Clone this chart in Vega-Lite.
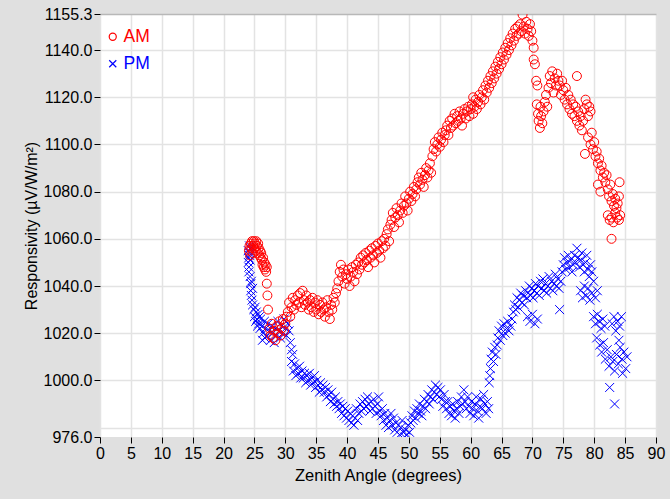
{
  "$schema": "https://vega.github.io/schema/vega-lite/v6.json",
  "width": 556,
  "height": 423,
  "autosize": {"type": "none"},
  "padding": {"left": 100, "top": 14, "right": 14, "bottom": 62},
  "background": "#e0e0e0",
  "config": {
    "font": "Liberation Sans",
    "view": {"fill": "white", "stroke": null}
  },
  "data": {"values": [
    {"a":24.0,"r":1055,"t":"PM"},{"a":24.1,"r":1052,"t":"PM"},{"a":24.2,"r":1057,"t":"PM"},{"a":24.0,"r":1050,"t":"PM"},{"a":24.1,"r":1048,"t":"PM"},{"a":24.2,"r":1054,"t":"PM"},{"a":24.3,"r":1051,"t":"PM"},{"a":24.1,"r":1046,"t":"PM"},{"a":24.3,"r":1056,"t":"PM"},{"a":24.2,"r":1053,"t":"PM"},
    {"a":24.3,"r":1044,"t":"PM"},{"a":24.4,"r":1041,"t":"PM"},{"a":24.4,"r":1038,"t":"PM"},{"a":24.5,"r":1036,"t":"PM"},{"a":24.5,"r":1042,"t":"PM"},{"a":24.6,"r":1034,"t":"PM"},{"a":24.7,"r":1039,"t":"PM"},{"a":24.7,"r":1032,"t":"PM"},
    {"a":24.9,"r":1030,"t":"PM"},{"a":25.0,"r":1027,"t":"PM"},{"a":25.1,"r":1031,"t":"PM"},{"a":25.2,"r":1025,"t":"PM"},{"a":25.3,"r":1029,"t":"PM"},{"a":25.4,"r":1026,"t":"PM"},{"a":25.5,"r":1023,"t":"PM"},{"a":25.6,"r":1028,"t":"PM"},{"a":25.7,"r":1024,"t":"PM"},{"a":25.8,"r":1027,"t":"PM"},{"a":25.9,"r":1022,"t":"PM"},{"a":26.0,"r":1026,"t":"PM"},{"a":26.2,"r":1023,"t":"PM"},{"a":26.4,"r":1020,"t":"PM"},{"a":26.6,"r":1025,"t":"PM"},{"a":26.8,"r":1022,"t":"PM"},{"a":27.0,"r":1019,"t":"PM"},{"a":27.2,"r":1024,"t":"PM"},
    {"a":26.3,"r":1017,"t":"PM"},{"a":26.7,"r":1018,"t":"PM"},{"a":27.4,"r":1021,"t":"PM"},{"a":27.6,"r":1017,"t":"PM"},{"a":27.8,"r":1023,"t":"PM"},{"a":28.0,"r":1020,"t":"PM"},{"a":28.2,"r":1016,"t":"PM"},{"a":28.4,"r":1022,"t":"PM"},{"a":28.6,"r":1019,"t":"PM"},{"a":28.8,"r":1025,"t":"PM"},{"a":29.0,"r":1021,"t":"PM"},{"a":29.2,"r":1018,"t":"PM"},{"a":29.4,"r":1023,"t":"PM"},{"a":29.6,"r":1020,"t":"PM"},{"a":29.8,"r":1026,"t":"PM"},{"a":30.0,"r":1022,"t":"PM"},{"a":30.2,"r":1019,"t":"PM"},{"a":30.4,"r":1024,"t":"PM"},{"a":30.6,"r":1021,"t":"PM"},{"a":30.8,"r":1016,"t":"PM"},{"a":31.0,"r":1013,"t":"PM"},
    {"a":31.0,"r":1008,"t":"PM"},{"a":31.2,"r":1011,"t":"PM"},{"a":31.3,"r":1004,"t":"PM"},{"a":31.5,"r":1007,"t":"PM"},{"a":31.7,"r":1002,"t":"PM"},{"a":31.9,"r":1005,"t":"PM"},{"a":32.1,"r":1003,"t":"PM"},{"a":32.3,"r":1006,"t":"PM"},{"a":32.5,"r":1001,"t":"PM"},
    {"a":32.7,"r":1004,"t":"PM"},{"a":32.9,"r":1001,"t":"PM"},{"a":33.1,"r":1003,"t":"PM"},{"a":33.3,"r":999,"t":"PM"},{"a":33.5,"r":1002,"t":"PM"},{"a":33.7,"r":1000,"t":"PM"},{"a":33.9,"r":1003,"t":"PM"},{"a":34.1,"r":998,"t":"PM"},{"a":34.3,"r":1001,"t":"PM"},{"a":34.5,"r":999,"t":"PM"},{"a":34.7,"r":1002,"t":"PM"},{"a":34.9,"r":997,"t":"PM"},{"a":35.1,"r":1000,"t":"PM"},{"a":35.3,"r":998,"t":"PM"},{"a":35.5,"r":995,"t":"PM"},{"a":35.7,"r":999,"t":"PM"},{"a":35.9,"r":996,"t":"PM"},{"a":36.1,"r":998,"t":"PM"},
    {"a":36.3,"r":995,"t":"PM"},{"a":36.5,"r":997,"t":"PM"},{"a":36.7,"r":993,"t":"PM"},{"a":36.9,"r":996,"t":"PM"},{"a":37.1,"r":994,"t":"PM"},{"a":37.3,"r":991,"t":"PM"},{"a":37.5,"r":995,"t":"PM"},{"a":37.7,"r":992,"t":"PM"},{"a":37.9,"r":990,"t":"PM"},{"a":38.1,"r":993,"t":"PM"},{"a":38.3,"r":989,"t":"PM"},{"a":38.5,"r":991,"t":"PM"},{"a":38.7,"r":988,"t":"PM"},{"a":38.9,"r":990,"t":"PM"},{"a":39.1,"r":986,"t":"PM"},{"a":39.3,"r":989,"t":"PM"},{"a":39.5,"r":985,"t":"PM"},{"a":39.7,"r":988,"t":"PM"},{"a":39.9,"r":984,"t":"PM"},
    {"a":40.1,"r":987,"t":"PM"},{"a":40.3,"r":983,"t":"PM"},{"a":40.5,"r":986,"t":"PM"},{"a":40.7,"r":982,"t":"PM"},{"a":40.9,"r":985,"t":"PM"},{"a":41.1,"r":981,"t":"PM"},{"a":41.3,"r":984,"t":"PM"},{"a":41.5,"r":988,"t":"PM"},{"a":41.7,"r":983,"t":"PM"},
    {"a":41.9,"r":986,"t":"PM"},{"a":42.1,"r":990,"t":"PM"},{"a":42.3,"r":987,"t":"PM"},{"a":42.5,"r":991,"t":"PM"},{"a":42.7,"r":988,"t":"PM"},{"a":42.9,"r":992,"t":"PM"},{"a":43.1,"r":989,"t":"PM"},{"a":43.3,"r":993,"t":"PM"},{"a":43.5,"r":990,"t":"PM"},{"a":43.7,"r":987,"t":"PM"},{"a":43.9,"r":991,"t":"PM"},{"a":44.1,"r":988,"t":"PM"},{"a":44.3,"r":992,"t":"PM"},{"a":44.5,"r":989,"t":"PM"},{"a":44.7,"r":986,"t":"PM"},{"a":44.9,"r":990,"t":"PM"},{"a":45.1,"r":993,"t":"PM"},{"a":45.3,"r":987,"t":"PM"},
    {"a":45.5,"r":985,"t":"PM"},{"a":45.7,"r":988,"t":"PM"},{"a":45.9,"r":983,"t":"PM"},{"a":46.1,"r":986,"t":"PM"},{"a":46.3,"r":981,"t":"PM"},{"a":46.5,"r":984,"t":"PM"},{"a":46.7,"r":980,"t":"PM"},{"a":46.9,"r":983,"t":"PM"},{"a":47.1,"r":986,"t":"PM"},{"a":47.3,"r":981,"t":"PM"},{"a":47.5,"r":984,"t":"PM"},
    {"a":47.7,"r":979,"t":"PM"},{"a":47.9,"r":982,"t":"PM"},{"a":48.1,"r":978,"t":"PM"},{"a":48.3,"r":981,"t":"PM"},{"a":48.5,"r":977,"t":"PM"},{"a":48.7,"r":980,"t":"PM"},{"a":48.9,"r":983,"t":"PM"},{"a":49.1,"r":978,"t":"PM"},{"a":49.3,"r":976,"t":"PM"},{"a":49.5,"r":979,"t":"PM"},{"a":49.7,"r":977,"t":"PM"},{"a":49.9,"r":981,"t":"PM"},{"a":50.1,"r":978,"t":"PM"},
    {"a":50.3,"r":982,"t":"PM"},{"a":50.5,"r":985,"t":"PM"},{"a":50.7,"r":983,"t":"PM"},{"a":50.9,"r":987,"t":"PM"},{"a":51.1,"r":984,"t":"PM"},{"a":51.3,"r":988,"t":"PM"},{"a":51.5,"r":986,"t":"PM"},{"a":51.7,"r":990,"t":"PM"},{"a":51.9,"r":987,"t":"PM"},{"a":52.1,"r":985,"t":"PM"},{"a":52.3,"r":989,"t":"PM"},{"a":52.5,"r":992,"t":"PM"},{"a":52.7,"r":988,"t":"PM"},{"a":52.9,"r":991,"t":"PM"},{"a":53.1,"r":994,"t":"PM"},{"a":53.3,"r":990,"t":"PM"},
    {"a":53.5,"r":993,"t":"PM"},{"a":53.7,"r":996,"t":"PM"},{"a":53.9,"r":992,"t":"PM"},{"a":54.1,"r":995,"t":"PM"},{"a":54.3,"r":998,"t":"PM"},{"a":54.5,"r":994,"t":"PM"},{"a":54.7,"r":997,"t":"PM"},{"a":54.9,"r":993,"t":"PM"},{"a":55.1,"r":996,"t":"PM"},{"a":55.3,"r":992,"t":"PM"},{"a":55.5,"r":989,"t":"PM"},{"a":55.7,"r":994,"t":"PM"},{"a":55.9,"r":991,"t":"PM"},
    {"a":56.1,"r":988,"t":"PM"},{"a":56.3,"r":991,"t":"PM"},{"a":56.5,"r":986,"t":"PM"},{"a":56.7,"r":989,"t":"PM"},{"a":56.9,"r":985,"t":"PM"},{"a":57.1,"r":990,"t":"PM"},{"a":57.3,"r":987,"t":"PM"},{"a":57.5,"r":984,"t":"PM"},{"a":57.7,"r":988,"t":"PM"},{"a":57.9,"r":991,"t":"PM"},{"a":58.1,"r":986,"t":"PM"},
    {"a":58.3,"r":989,"t":"PM"},{"a":58.5,"r":993,"t":"PM"},{"a":58.7,"r":990,"t":"PM"},{"a":58.9,"r":996,"t":"PM"},{"a":59.1,"r":991,"t":"PM"},{"a":59.3,"r":988,"t":"PM"},{"a":59.5,"r":993,"t":"PM"},{"a":59.7,"r":989,"t":"PM"},{"a":59.9,"r":986,"t":"PM"},{"a":60.1,"r":991,"t":"PM"},{"a":60.3,"r":988,"t":"PM"},{"a":60.5,"r":985,"t":"PM"},{"a":60.7,"r":990,"t":"PM"},{"a":60.9,"r":993,"t":"PM"},{"a":61.1,"r":987,"t":"PM"},{"a":61.3,"r":984,"t":"PM"},{"a":61.5,"r":989,"t":"PM"},
    {"a":61.7,"r":992,"t":"PM"},{"a":61.9,"r":988,"t":"PM"},{"a":62.1,"r":994,"t":"PM"},{"a":62.3,"r":990,"t":"PM"},{"a":62.5,"r":986,"t":"PM"},{"a":62.7,"r":991,"t":"PM"},{"a":62.9,"r":988,"t":"PM"},
    {"a":63.0,"r":999,"t":"PM"},{"a":63.1,"r":1002,"t":"PM"},{"a":63.2,"r":1005,"t":"PM"},
    {"a":63.3,"r":1009,"t":"PM"},{"a":63.5,"r":1012,"t":"PM"},{"a":63.7,"r":1008,"t":"PM"},{"a":63.9,"r":1014,"t":"PM"},{"a":64.1,"r":1011,"t":"PM"},{"a":64.3,"r":1015,"t":"PM"},
    {"a":64.4,"r":1018,"t":"PM"},{"a":64.6,"r":1021,"t":"PM"},{"a":64.8,"r":1017,"t":"PM"},{"a":65.0,"r":1023,"t":"PM"},{"a":65.2,"r":1019,"t":"PM"},{"a":65.4,"r":1024,"t":"PM"},{"a":65.6,"r":1020,"t":"PM"},{"a":65.8,"r":1022,"t":"PM"},{"a":66.0,"r":1025,"t":"PM"},{"a":66.2,"r":1021,"t":"PM"},{"a":66.5,"r":1023,"t":"PM"},{"a":66.7,"r":1026,"t":"PM"},
    {"a":66.9,"r":1029,"t":"PM"},{"a":67.1,"r":1032,"t":"PM"},{"a":67.3,"r":1030,"t":"PM"},{"a":67.5,"r":1035,"t":"PM"},{"a":67.7,"r":1031,"t":"PM"},{"a":67.9,"r":1034,"t":"PM"},{"a":68.1,"r":1037,"t":"PM"},{"a":68.3,"r":1033,"t":"PM"},{"a":68.5,"r":1036,"t":"PM"},{"a":68.7,"r":1032,"t":"PM"},{"a":68.9,"r":1038,"t":"PM"},{"a":69.1,"r":1035,"t":"PM"},
    {"a":69.2,"r":1027,"t":"PM"},{"a":69.6,"r":1025,"t":"PM"},{"a":70.0,"r":1028,"t":"PM"},{"a":70.4,"r":1024,"t":"PM"},{"a":70.8,"r":1026,"t":"PM"},
    {"a":69.3,"r":1037,"t":"PM"},{"a":69.5,"r":1040,"t":"PM"},{"a":69.7,"r":1036,"t":"PM"},{"a":69.9,"r":1039,"t":"PM"},{"a":70.1,"r":1035,"t":"PM"},{"a":70.3,"r":1038,"t":"PM"},{"a":70.5,"r":1041,"t":"PM"},{"a":70.7,"r":1037,"t":"PM"},{"a":70.9,"r":1040,"t":"PM"},{"a":71.1,"r":1036,"t":"PM"},{"a":71.3,"r":1042,"t":"PM"},{"a":71.5,"r":1039,"t":"PM"},{"a":71.7,"r":1043,"t":"PM"},{"a":71.9,"r":1038,"t":"PM"},{"a":72.1,"r":1041,"t":"PM"},{"a":72.3,"r":1037,"t":"PM"},{"a":72.5,"r":1040,"t":"PM"},{"a":72.7,"r":1044,"t":"PM"},{"a":72.9,"r":1039,"t":"PM"},{"a":73.1,"r":1042,"t":"PM"},{"a":73.3,"r":1038,"t":"PM"},{"a":73.5,"r":1041,"t":"PM"},{"a":73.7,"r":1045,"t":"PM"},{"a":73.9,"r":1040,"t":"PM"},{"a":74.1,"r":1043,"t":"PM"},{"a":74.3,"r":1039,"t":"PM"},{"a":74.6,"r":1042,"t":"PM"},
    {"a":74.4,"r":1030,"t":"PM"},
    {"a":74.8,"r":1046,"t":"PM"},{"a":75.0,"r":1049,"t":"PM"},{"a":75.2,"r":1052,"t":"PM"},{"a":75.4,"r":1047,"t":"PM"},{"a":75.6,"r":1050,"t":"PM"},{"a":75.8,"r":1053,"t":"PM"},{"a":76.0,"r":1048,"t":"PM"},{"a":76.2,"r":1051,"t":"PM"},{"a":76.4,"r":1046,"t":"PM"},{"a":76.6,"r":1049,"t":"PM"},{"a":76.8,"r":1053,"t":"PM"},{"a":77.0,"r":1050,"t":"PM"},{"a":77.2,"r":1056,"t":"PM"},{"a":77.4,"r":1052,"t":"PM"},{"a":77.6,"r":1048,"t":"PM"},{"a":77.8,"r":1051,"t":"PM"},{"a":78.0,"r":1054,"t":"PM"},{"a":78.2,"r":1049,"t":"PM"},{"a":78.4,"r":1046,"t":"PM"},{"a":78.6,"r":1050,"t":"PM"},{"a":78.8,"r":1053,"t":"PM"},{"a":79.0,"r":1047,"t":"PM"},{"a":79.2,"r":1044,"t":"PM"},{"a":79.4,"r":1049,"t":"PM"},{"a":79.6,"r":1046,"t":"PM"},
    {"a":77.8,"r":1038,"t":"PM"},{"a":78.1,"r":1035,"t":"PM"},{"a":78.4,"r":1040,"t":"PM"},{"a":78.7,"r":1036,"t":"PM"},{"a":79.0,"r":1039,"t":"PM"},{"a":79.3,"r":1034,"t":"PM"},{"a":79.6,"r":1037,"t":"PM"},{"a":79.9,"r":1042,"t":"PM"},{"a":80.2,"r":1035,"t":"PM"},{"a":80.5,"r":1038,"t":"PM"},
    {"a":79.9,"r":1027,"t":"PM"},{"a":80.2,"r":1024,"t":"PM"},{"a":80.5,"r":1028,"t":"PM"},{"a":80.8,"r":1025,"t":"PM"},{"a":81.1,"r":1022,"t":"PM"},{"a":81.4,"r":1026,"t":"PM"},{"a":81.7,"r":1023,"t":"PM"},{"a":82.9,"r":1024,"t":"PM"},{"a":83.2,"r":1027,"t":"PM"},{"a":83.5,"r":1021,"t":"PM"},{"a":83.8,"r":1025,"t":"PM"},{"a":84.1,"r":1023,"t":"PM"},{"a":84.4,"r":1027,"t":"PM"},
    {"a":80.4,"r":1018,"t":"PM"},
    {"a":80.9,"r":1015,"t":"PM"},{"a":81.2,"r":1012,"t":"PM"},{"a":81.5,"r":1016,"t":"PM"},{"a":81.8,"r":1009,"t":"PM"},{"a":82.1,"r":1013,"t":"PM"},{"a":82.4,"r":1006,"t":"PM"},{"a":82.7,"r":1010,"t":"PM"},{"a":83.0,"r":1008,"t":"PM"},{"a":83.3,"r":1004,"t":"PM"},{"a":83.6,"r":1011,"t":"PM"},{"a":83.9,"r":1007,"t":"PM"},{"a":84.2,"r":1014,"t":"PM"},{"a":84.5,"r":1009,"t":"PM"},{"a":84.8,"r":1012,"t":"PM"},{"a":85.1,"r":1005,"t":"PM"},{"a":85.3,"r":1010,"t":"PM"},{"a":84.0,"r":1017,"t":"PM"},{"a":84.6,"r":1003,"t":"PM"},
    {"a":82.5,"r":997,"t":"PM"},{"a":83.3,"r":990,"t":"PM"},

    {"a":24.1,"r":1055,"t":"AM"},{"a":24.2,"r":1057,"t":"AM"},{"a":24.3,"r":1053,"t":"AM"},{"a":24.4,"r":1058,"t":"AM"},{"a":24.5,"r":1056,"t":"AM"},{"a":24.6,"r":1059,"t":"AM"},{"a":24.7,"r":1054,"t":"AM"},{"a":24.8,"r":1057,"t":"AM"},{"a":24.9,"r":1059,"t":"AM"},{"a":25.0,"r":1056,"t":"AM"},{"a":25.1,"r":1058,"t":"AM"},{"a":25.2,"r":1055,"t":"AM"},{"a":25.3,"r":1059,"t":"AM"},{"a":25.4,"r":1057,"t":"AM"},{"a":25.5,"r":1054,"t":"AM"},{"a":25.6,"r":1058,"t":"AM"},{"a":25.7,"r":1056,"t":"AM"},{"a":25.8,"r":1053,"t":"AM"},{"a":25.9,"r":1055,"t":"AM"},{"a":26.0,"r":1052,"t":"AM"},{"a":26.1,"r":1054,"t":"AM"},{"a":26.2,"r":1051,"t":"AM"},{"a":26.3,"r":1049,"t":"AM"},{"a":26.4,"r":1052,"t":"AM"},{"a":26.5,"r":1048,"t":"AM"},{"a":26.6,"r":1050,"t":"AM"},{"a":26.7,"r":1047,"t":"AM"},{"a":26.8,"r":1049,"t":"AM"},{"a":26.9,"r":1046,"t":"AM"},{"a":27.0,"r":1048,"t":"AM"},
    {"a":27.0,"r":1041,"t":"AM"},{"a":27.1,"r":1036,"t":"AM"},{"a":27.2,"r":1030,"t":"AM"},
    {"a":27.4,"r":1022,"t":"AM"},{"a":27.6,"r":1019,"t":"AM"},{"a":27.8,"r":1024,"t":"AM"},{"a":28.0,"r":1018,"t":"AM"},{"a":28.2,"r":1021,"t":"AM"},{"a":28.4,"r":1017,"t":"AM"},{"a":28.6,"r":1023,"t":"AM"},{"a":28.8,"r":1020,"t":"AM"},{"a":29.0,"r":1025,"t":"AM"},{"a":29.2,"r":1019,"t":"AM"},{"a":29.4,"r":1022,"t":"AM"},{"a":29.6,"r":1026,"t":"AM"},{"a":29.8,"r":1021,"t":"AM"},{"a":30.0,"r":1024,"t":"AM"},{"a":30.2,"r":1027,"t":"AM"},
    {"a":30.4,"r":1029,"t":"AM"},{"a":30.6,"r":1033,"t":"AM"},{"a":30.8,"r":1027,"t":"AM"},{"a":31.0,"r":1031,"t":"AM"},{"a":31.2,"r":1035,"t":"AM"},{"a":31.4,"r":1030,"t":"AM"},{"a":31.6,"r":1034,"t":"AM"},{"a":31.8,"r":1032,"t":"AM"},{"a":32.0,"r":1036,"t":"AM"},{"a":32.2,"r":1033,"t":"AM"},{"a":32.4,"r":1037,"t":"AM"},{"a":32.6,"r":1031,"t":"AM"},{"a":32.8,"r":1038,"t":"AM"},{"a":33.0,"r":1034,"t":"AM"},{"a":33.2,"r":1032,"t":"AM"},{"a":33.4,"r":1036,"t":"AM"},{"a":33.6,"r":1033,"t":"AM"},{"a":33.8,"r":1030,"t":"AM"},{"a":34.0,"r":1034,"t":"AM"},{"a":34.2,"r":1031,"t":"AM"},{"a":34.4,"r":1035,"t":"AM"},{"a":34.6,"r":1029,"t":"AM"},{"a":34.8,"r":1033,"t":"AM"},{"a":35.0,"r":1030,"t":"AM"},{"a":35.2,"r":1034,"t":"AM"},{"a":35.4,"r":1028,"t":"AM"},{"a":35.6,"r":1032,"t":"AM"},{"a":35.8,"r":1029,"t":"AM"},{"a":36.0,"r":1033,"t":"AM"},{"a":36.2,"r":1030,"t":"AM"},{"a":36.4,"r":1027,"t":"AM"},{"a":36.6,"r":1031,"t":"AM"},{"a":36.8,"r":1034,"t":"AM"},{"a":37.0,"r":1029,"t":"AM"},{"a":37.2,"r":1026,"t":"AM"},{"a":37.4,"r":1032,"t":"AM"},{"a":37.6,"r":1030,"t":"AM"},{"a":37.8,"r":1035,"t":"AM"},{"a":38.0,"r":1033,"t":"AM"},{"a":38.2,"r":1037,"t":"AM"},{"a":38.4,"r":1039,"t":"AM"},
    {"a":38.6,"r":1042,"t":"AM"},{"a":38.8,"r":1046,"t":"AM"},{"a":39.0,"r":1049,"t":"AM"},{"a":39.2,"r":1044,"t":"AM"},{"a":39.4,"r":1047,"t":"AM"},{"a":39.6,"r":1041,"t":"AM"},{"a":39.8,"r":1045,"t":"AM"},{"a":40.0,"r":1043,"t":"AM"},{"a":40.2,"r":1047,"t":"AM"},{"a":40.4,"r":1040,"t":"AM"},{"a":40.6,"r":1044,"t":"AM"},{"a":40.8,"r":1048,"t":"AM"},{"a":41.0,"r":1046,"t":"AM"},{"a":41.2,"r":1042,"t":"AM"},{"a":41.4,"r":1049,"t":"AM"},{"a":41.6,"r":1045,"t":"AM"},
    {"a":41.8,"r":1050,"t":"AM"},{"a":42.0,"r":1047,"t":"AM"},{"a":42.2,"r":1052,"t":"AM"},{"a":42.4,"r":1049,"t":"AM"},{"a":42.6,"r":1053,"t":"AM"},{"a":42.8,"r":1050,"t":"AM"},{"a":43.0,"r":1054,"t":"AM"},{"a":43.2,"r":1051,"t":"AM"},{"a":43.4,"r":1048,"t":"AM"},{"a":43.6,"r":1055,"t":"AM"},{"a":43.8,"r":1052,"t":"AM"},{"a":44.0,"r":1056,"t":"AM"},{"a":44.2,"r":1053,"t":"AM"},{"a":44.4,"r":1050,"t":"AM"},{"a":44.6,"r":1057,"t":"AM"},{"a":44.8,"r":1054,"t":"AM"},{"a":45.0,"r":1058,"t":"AM"},{"a":45.2,"r":1055,"t":"AM"},{"a":45.4,"r":1052,"t":"AM"},{"a":45.6,"r":1059,"t":"AM"},{"a":45.8,"r":1056,"t":"AM"},{"a":46.0,"r":1060,"t":"AM"},{"a":46.2,"r":1057,"t":"AM"},{"a":46.4,"r":1062,"t":"AM"},{"a":46.6,"r":1064,"t":"AM"},{"a":46.8,"r":1059,"t":"AM"},
    {"a":47.0,"r":1066,"t":"AM"},{"a":47.2,"r":1068,"t":"AM"},{"a":47.4,"r":1071,"t":"AM"},{"a":47.6,"r":1065,"t":"AM"},{"a":47.8,"r":1069,"t":"AM"},{"a":48.0,"r":1073,"t":"AM"},{"a":48.2,"r":1070,"t":"AM"},{"a":48.4,"r":1067,"t":"AM"},{"a":48.6,"r":1072,"t":"AM"},{"a":48.8,"r":1075,"t":"AM"},{"a":49.0,"r":1071,"t":"AM"},
    {"a":49.2,"r":1074,"t":"AM"},{"a":49.4,"r":1078,"t":"AM"},{"a":49.6,"r":1075,"t":"AM"},{"a":49.8,"r":1072,"t":"AM"},{"a":50.0,"r":1077,"t":"AM"},{"a":50.2,"r":1080,"t":"AM"},{"a":50.4,"r":1076,"t":"AM"},{"a":50.6,"r":1079,"t":"AM"},{"a":50.8,"r":1082,"t":"AM"},{"a":51.0,"r":1078,"t":"AM"},{"a":51.2,"r":1081,"t":"AM"},{"a":51.4,"r":1084,"t":"AM"},
    {"a":51.6,"r":1086,"t":"AM"},{"a":51.8,"r":1083,"t":"AM"},{"a":52.0,"r":1088,"t":"AM"},{"a":52.2,"r":1085,"t":"AM"},{"a":52.4,"r":1082,"t":"AM"},{"a":52.6,"r":1087,"t":"AM"},{"a":52.8,"r":1090,"t":"AM"},{"a":53.0,"r":1086,"t":"AM"},{"a":53.2,"r":1089,"t":"AM"},{"a":53.4,"r":1092,"t":"AM"},{"a":53.6,"r":1088,"t":"AM"},
    {"a":53.8,"r":1095,"t":"AM"},{"a":54.0,"r":1098,"t":"AM"},{"a":54.2,"r":1101,"t":"AM"},{"a":54.4,"r":1097,"t":"AM"},{"a":54.6,"r":1100,"t":"AM"},{"a":54.8,"r":1103,"t":"AM"},{"a":55.0,"r":1099,"t":"AM"},{"a":55.2,"r":1102,"t":"AM"},{"a":55.4,"r":1105,"t":"AM"},{"a":55.6,"r":1101,"t":"AM"},{"a":55.8,"r":1104,"t":"AM"},{"a":56.0,"r":1106,"t":"AM"},
    {"a":56.2,"r":1108,"t":"AM"},{"a":56.4,"r":1104,"t":"AM"},{"a":56.6,"r":1110,"t":"AM"},{"a":56.8,"r":1107,"t":"AM"},{"a":57.0,"r":1111,"t":"AM"},{"a":57.2,"r":1108,"t":"AM"},{"a":57.4,"r":1113,"t":"AM"},{"a":57.6,"r":1109,"t":"AM"},{"a":57.8,"r":1112,"t":"AM"},{"a":58.0,"r":1110,"t":"AM"},{"a":58.2,"r":1114,"t":"AM"},{"a":58.4,"r":1111,"t":"AM"},{"a":58.6,"r":1108,"t":"AM"},{"a":58.8,"r":1113,"t":"AM"},{"a":59.0,"r":1115,"t":"AM"},{"a":59.2,"r":1111,"t":"AM"},{"a":59.4,"r":1114,"t":"AM"},{"a":59.6,"r":1116,"t":"AM"},{"a":59.8,"r":1112,"t":"AM"},{"a":60.0,"r":1115,"t":"AM"},{"a":60.2,"r":1117,"t":"AM"},{"a":60.4,"r":1113,"t":"AM"},{"a":60.6,"r":1116,"t":"AM"},{"a":60.8,"r":1119,"t":"AM"},{"a":61.0,"r":1115,"t":"AM"},{"a":61.2,"r":1118,"t":"AM"},{"a":61.4,"r":1121,"t":"AM"},{"a":61.6,"r":1117,"t":"AM"},{"a":60.4,"r":1120,"t":"AM"},
    {"a":61.8,"r":1120,"t":"AM"},{"a":62.0,"r":1123,"t":"AM"},{"a":62.2,"r":1119,"t":"AM"},{"a":62.4,"r":1125,"t":"AM"},{"a":62.6,"r":1122,"t":"AM"},{"a":62.8,"r":1127,"t":"AM"},{"a":63.0,"r":1124,"t":"AM"},{"a":63.2,"r":1129,"t":"AM"},{"a":63.4,"r":1126,"t":"AM"},{"a":63.6,"r":1131,"t":"AM"},{"a":63.8,"r":1128,"t":"AM"},{"a":64.0,"r":1133,"t":"AM"},{"a":64.2,"r":1130,"t":"AM"},{"a":64.4,"r":1135,"t":"AM"},{"a":64.6,"r":1132,"t":"AM"},{"a":64.8,"r":1137,"t":"AM"},{"a":65.0,"r":1134,"t":"AM"},{"a":65.2,"r":1139,"t":"AM"},{"a":65.4,"r":1136,"t":"AM"},{"a":65.6,"r":1141,"t":"AM"},{"a":65.8,"r":1138,"t":"AM"},{"a":66.0,"r":1143,"t":"AM"},{"a":66.2,"r":1140,"t":"AM"},{"a":66.4,"r":1145,"t":"AM"},{"a":66.6,"r":1142,"t":"AM"},{"a":66.8,"r":1147,"t":"AM"},{"a":67.0,"r":1144,"t":"AM"},{"a":67.2,"r":1149,"t":"AM"},{"a":67.4,"r":1146,"t":"AM"},{"a":67.6,"r":1150,"t":"AM"},{"a":67.8,"r":1147,"t":"AM"},{"a":68.0,"r":1151,"t":"AM"},{"a":68.2,"r":1148,"t":"AM"},{"a":68.4,"r":1155,"t":"AM"},{"a":68.6,"r":1150,"t":"AM"},{"a":68.8,"r":1147,"t":"AM"},{"a":69.0,"r":1152,"t":"AM"},{"a":69.2,"r":1149,"t":"AM"},{"a":69.4,"r":1146,"t":"AM"},{"a":69.6,"r":1151,"t":"AM"},{"a":69.8,"r":1148,"t":"AM"},{"a":70.0,"r":1144,"t":"AM"},{"a":70.2,"r":1141,"t":"AM"},
    {"a":70.2,"r":1136,"t":"AM"},{"a":70.4,"r":1134,"t":"AM"},{"a":70.6,"r":1127,"t":"AM"},{"a":70.8,"r":1125,"t":"AM"},{"a":70.7,"r":1117,"t":"AM"},{"a":70.9,"r":1113,"t":"AM"},{"a":71.0,"r":1110,"t":"AM"},{"a":71.2,"r":1107,"t":"AM"},{"a":71.4,"r":1112,"t":"AM"},{"a":71.3,"r":1116,"t":"AM"},{"a":71.6,"r":1109,"t":"AM"},{"a":71.8,"r":1114,"t":"AM"},{"a":72.0,"r":1118,"t":"AM"},{"a":72.2,"r":1121,"t":"AM"},{"a":72.4,"r":1116,"t":"AM"},{"a":72.6,"r":1124,"t":"AM"},{"a":72.8,"r":1129,"t":"AM"},{"a":73.0,"r":1126,"t":"AM"},{"a":73.2,"r":1131,"t":"AM"},{"a":73.4,"r":1122,"t":"AM"},{"a":73.6,"r":1128,"t":"AM"},{"a":73.8,"r":1125,"t":"AM"},{"a":74.0,"r":1130,"t":"AM"},{"a":74.2,"r":1127,"t":"AM"},
    {"a":74.4,"r":1125,"t":"AM"},{"a":74.6,"r":1121,"t":"AM"},{"a":74.8,"r":1127,"t":"AM"},{"a":75.0,"r":1123,"t":"AM"},{"a":75.2,"r":1119,"t":"AM"},{"a":75.4,"r":1124,"t":"AM"},{"a":75.6,"r":1117,"t":"AM"},{"a":75.8,"r":1121,"t":"AM"},{"a":76.0,"r":1115,"t":"AM"},{"a":76.2,"r":1119,"t":"AM"},{"a":76.4,"r":1113,"t":"AM"},{"a":76.6,"r":1117,"t":"AM"},{"a":77.2,"r":1129,"t":"AM"},{"a":76.8,"r":1112,"t":"AM"},{"a":77.0,"r":1116,"t":"AM"},{"a":77.2,"r":1110,"t":"AM"},{"a":77.4,"r":1114,"t":"AM"},{"a":77.6,"r":1108,"t":"AM"},{"a":77.8,"r":1112,"t":"AM"},{"a":78.0,"r":1106,"t":"AM"},{"a":78.2,"r":1110,"t":"AM"},{"a":78.4,"r":1115,"t":"AM"},{"a":78.6,"r":1119,"t":"AM"},{"a":78.8,"r":1117,"t":"AM"},{"a":79.0,"r":1112,"t":"AM"},{"a":79.2,"r":1116,"t":"AM"},{"a":79.4,"r":1114,"t":"AM"},{"a":79.6,"r":1105,"t":"AM"},
    {"a":78.5,"r":1096,"t":"AM"},{"a":79.0,"r":1103,"t":"AM"},{"a":79.4,"r":1100,"t":"AM"},{"a":79.8,"r":1098,"t":"AM"},{"a":80.0,"r":1101,"t":"AM"},{"a":80.2,"r":1095,"t":"AM"},{"a":80.4,"r":1097,"t":"AM"},{"a":80.6,"r":1092,"t":"AM"},{"a":80.8,"r":1094,"t":"AM"},{"a":81.0,"r":1089,"t":"AM"},{"a":81.2,"r":1091,"t":"AM"},{"a":81.4,"r":1086,"t":"AM"},{"a":81.6,"r":1088,"t":"AM"},{"a":81.8,"r":1084,"t":"AM"},{"a":82.0,"r":1087,"t":"AM"},{"a":82.2,"r":1081,"t":"AM"},{"a":80.6,"r":1083,"t":"AM"},{"a":81.0,"r":1080,"t":"AM"},{"a":82.4,"r":1078,"t":"AM"},{"a":82.6,"r":1083,"t":"AM"},{"a":82.8,"r":1076,"t":"AM"},{"a":83.0,"r":1079,"t":"AM"},{"a":83.2,"r":1074,"t":"AM"},{"a":83.4,"r":1077,"t":"AM"},{"a":83.6,"r":1073,"t":"AM"},{"a":83.8,"r":1075,"t":"AM"},{"a":84.0,"r":1078,"t":"AM"},{"a":84.1,"r":1084,"t":"AM"},{"a":82.2,"r":1070,"t":"AM"},{"a":82.5,"r":1068,"t":"AM"},{"a":82.8,"r":1069,"t":"AM"},{"a":83.1,"r":1067,"t":"AM"},{"a":83.4,"r":1071,"t":"AM"},{"a":83.7,"r":1069,"t":"AM"},{"a":84.0,"r":1068,"t":"AM"},{"a":84.2,"r":1070,"t":"AM"},{"a":82.8,"r":1060,"t":"AM"}
  ]},
  "mark": {"type": "point", "filled": false, "strokeWidth": 1, "size": 80, "opacity": 1, "clip": true},
  "encoding": {
    "x": {
      "field": "a", "type": "quantitative",
      "scale": {"domain": [0, 90], "nice": false, "zero": false},
      "axis": {
        "title": "Zenith Angle (degrees)",
        "values": [0,5,10,15,20,25,30,35,40,45,50,55,60,65,70,75,80,85,90],
        "format": "d",
        "labelFlush": false, "labelOverlap": false,
        "labelFontSize": 16, "labelColor": "#000", "labelPadding": 2,
        "tickSize": 6, "tickColor": "#000", "tickWidth": 1,
        "domain": false,
        "grid": true, "gridColor": "#e3e3e3", "gridWidth": 1.5,
        "titleFontSize": 16.5, "titleFontWeight": "normal", "titleColor": "#000", "titlePadding": 6
      }
    },
    "y": {
      "field": "r", "type": "quantitative",
      "scale": {"domain": [976, 1155.3], "nice": false, "zero": false},
      "axis": {
        "title": "Responsivity (µV/W/m²)",
        "values": [976, 980, 1000, 1020, 1040, 1060, 1080, 1100, 1120, 1140, 1155.3],
        "format": ".1f",
        "labelExpr": "datum.value == 980 ? '' : datum.label",
        "labelOverlap": false, "labelFlush": false,
        "labelFontSize": 16, "labelColor": "#000", "labelPadding": 2,
        "tickSize": 6, "tickWidth": 1,
        "tickColor": {"condition": {"test": "datum.value == 980", "value": "transparent"}, "value": "#000"},
        "domain": false,
        "grid": true, "gridWidth": 1.5,
        "gridColor": {"condition": [{"test": "datum.value == 976", "value": "transparent"}, {"test": "datum.value > 1150", "value": "#b8b8b8"}], "value": "#e3e3e3"},
        "titleFontSize": 16, "titleFontWeight": "normal", "titleColor": "#000", "titlePadding": 4
      }
    },
    "color": {
      "field": "t", "type": "nominal",
      "scale": {"domain": ["AM", "PM"], "range": ["#ff0000", "#0000ff"]},
      "legend": {
        "title": null, "orient": "none", "legendX": 4, "legendY": 14,
        "padding": 0, "labelFontSize": 17.5, "symbolSize": 50, "symbolStrokeWidth": 1.2,
        "labelOffset": 2, "rowPadding": 8,
        "labelColor": {"expr": "datum.value == 'AM' ? '#ff0000' : '#0000ff'"}
      }
    },
    "shape": {
      "field": "t", "type": "nominal",
      "scale": {"domain": ["AM", "PM"], "range": ["circle", "M-1,-1L1,1M1,-1L-1,1"]}
    }
  }
}
